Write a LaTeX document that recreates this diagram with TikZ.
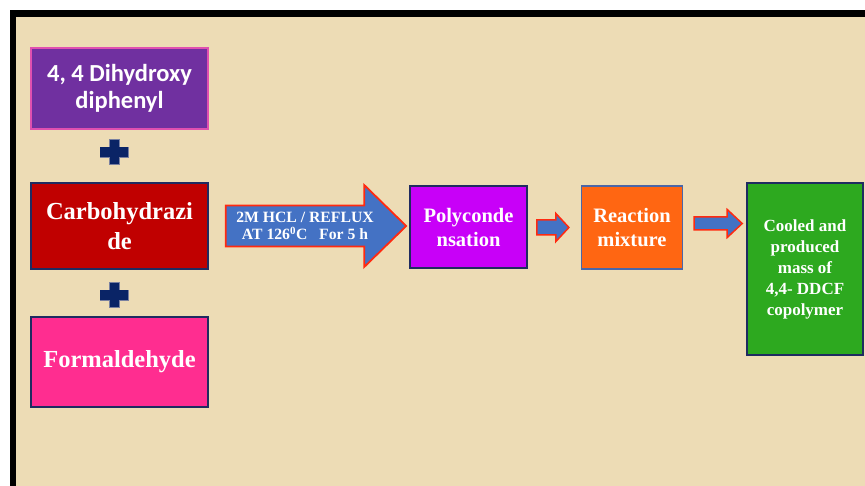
\documentclass[tikz,border=0pt]{standalone}
\usepackage{fontspec}
\setmainfont{Liberation Serif}
\newfontfamily\calib{Carlito}
\usetikzlibrary{calc}
\definecolor{bgc}{HTML}{EDDCB5}
\definecolor{purp}{HTML}{7030A0}
\definecolor{purpedge}{HTML}{E050B0}
\definecolor{redc}{HTML}{C00000}
\definecolor{pinkc}{HTML}{FF2D90}
\definecolor{navy}{HTML}{1F2B60}
\definecolor{blu}{HTML}{4472C4}
\definecolor{arrred}{HTML}{FF2A10}
\definecolor{magc}{HTML}{C800F8}
\definecolor{orng}{HTML}{FF6612}
\definecolor{orngedge}{HTML}{4A66A8}
\definecolor{grn}{HTML}{2DA91F}
\definecolor{plusc}{HTML}{0A2466}
\tikzset{
  box/.style={draw=navy, line width=1.6pt, text=white, align=center, inner sep=0pt, font=\bfseries},
  blockarrow/.style={fill=blu, draw=arrred, line width=1.6pt, line join=miter},
}
\newcommand\blockarr[6]{% start, end, shaft half, head half, head length, line width
  \filldraw[blockarrow, line width=#6] let \p1=#1, \p2=#2 in
    (\x1,\y1+#3) -- (\x2-#5,\y1+#3) -- (\x2-#5,\y1+#4) -- (\x2,\y1)
    -- (\x2-#5,\y1-#4) -- (\x2-#5,\y1-#3) -- (\x1,\y1-#3) -- cycle;}
\begin{document}
\begin{tikzpicture}[x=1pt,y=-1pt]
\useasboundingbox (0,0) rectangle (865,486);
\fill[white] (0,0) rectangle (865,486);
\fill[bgc] (14,14) rectangle (865,486);
\fill[black] (10,10) rectangle (865,17);
\fill[black] (10,10) rectangle (16,486);

\node[box, draw=purpedge, line width=1.2pt, fill=purp, minimum width=177pt, minimum height=81pt,
  font=\calib\bfseries\fontsize{24.5}{27.5}\selectfont] (dih) at (119.5,88.5) {4, 4 Dihydroxy\\diphenyl};
\node[box, fill=redc, minimum width=177pt, minimum height=86pt,
  font=\bfseries\fontsize{24.5}{30}\selectfont] (carb) at (119.5,226) {Carbohydrazi\\de};
\node[box, fill=pinkc, minimum width=177pt, minimum height=90pt,
  font=\bfseries\fontsize{24.5}{30}\selectfont] (form) at (119.5,362) {Formaldehyde};

\filldraw[plusc, draw=navy!60, line width=0.4pt] (100,147) rectangle (128,157);
\filldraw[plusc, draw=navy!60, line width=0.4pt] (109,139.5) rectangle (119,164.5);
\fill[plusc] (100.3,147.3) rectangle (127.7,156.7);
\filldraw[plusc, draw=navy!60, line width=0.4pt] (100,290) rectangle (128,300);
\filldraw[plusc, draw=navy!60, line width=0.4pt] (109,282.5) rectangle (119,307.5);
\fill[plusc] (100.3,290.3) rectangle (127.7,299.7);

\node[box, fill=magc, minimum width=117pt, minimum height=82pt,
  font=\bfseries\fontsize{20.5}{24}\selectfont] (poly) at (468.5,227) {Polyconde\\nsation};
\node[box, draw=orngedge, line width=1.2pt, fill=orng, minimum width=101pt, minimum height=83pt,
  font=\bfseries\fontsize{20.5}{24}\selectfont] (react) at (632,227.5) {Reaction\\mixture};
\node[box, fill=grn, minimum width=116pt, minimum height=172pt,
  font=\bfseries\fontsize{17}{21}\selectfont] (cool) at (805,269) {Cooled and\\produced\\mass of\\4,4- DDCF\\copolymer};

\blockarr{([xshift=17pt]carb.east)}{([xshift=-3pt]poly.west |- carb.east)}{20.5pt}{41pt}{42pt}{1.8pt}
\node[text=white, align=center, inner sep=0pt, font=\bfseries\fontsize{15.7}{17}\selectfont] (cond)
  at (305,226) {2M HCL / REFLUX\\AT 126\textsuperscript{0}C\ \ \ For 5 h};

\blockarr{([xshift=9pt,yshift=-0.5pt]poly.east)}{([xshift=-12pt]react.west)}{7.5pt}{14pt}{13pt}{1.5pt}
\blockarr{([xshift=11pt,yshift=4pt]react.east)}{([xshift=-4pt]cool.west |- react.east)}{6.5pt}{14pt}{15pt}{1.5pt}
\end{tikzpicture}
\end{document}
